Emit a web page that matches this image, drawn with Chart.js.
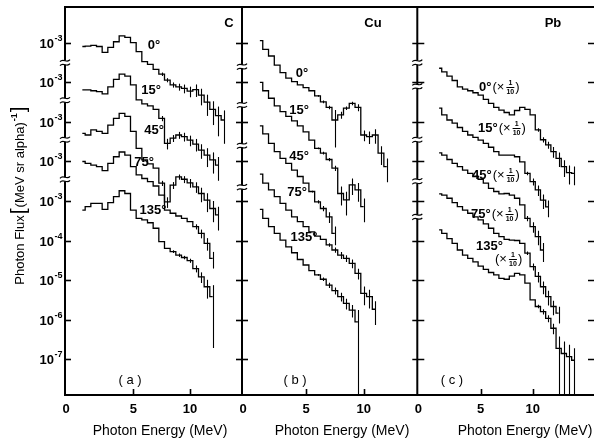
<!DOCTYPE html>
<html>
<head>
<meta charset="utf-8">
<script src="https://cdn.jsdelivr.net/npm/chart.js@4.4.0/dist/chart.umd.min.js"></script>
<style>
	html, body { margin: 0; padding: 0; background: #fff; }
	#wrap { position: relative; width: 594px; height: 442px; overflow: hidden; background: #fff; }
	#wrap canvas { position: absolute; left: 0; top: 0; }
</style>
</head>
<body>
<div id="wrap">
	<canvas id="chart-c" width="594" height="442"></canvas>
	<canvas id="chart-b" width="594" height="442"></canvas>
	<canvas id="chart-a" width="594" height="442"></canvas>
</div>
<script>
	// log10 of photon flux, each curve read against its own "10^-3" tick
	const angleLabels = ['0°', '15°', '45°', '75°', '135°'];
	const curveShift = [4, 3, 2, 1, 0];   // decades each curve is lifted on the page

	// y ticks (in page decades) and their exponents
	const tickPos = [1, 0, -1, -2, -3, -4, -5, -6, -7];
	const tickSup = ['-3', '-3', '-3', '-3', '-3', '-4', '-5', '-6', '-7'];

	// (a) Carbon
	const energyC = [0.5, 1, 1.5, 2, 2.5, 3, 3.5, 4, 4.5, 5, 5.5, 6, 6.5, 7, 7.5, 8, 8.5, 9, 9.5, 10, 10.5, 11, 11.5, 12, 12.5, 13];
	const cC0   = [-3.09, -3.08, -3.06, -3.09, -3.24, -3.11, -2.97, -2.82, -2.86, -2.99, -3.22, -3.47, -3.54, -3.67, -3.79, -3.94, -4.06, -4.11, -4.15, -4.22, -4.18, -4.32, -4.50, -4.68, -4.84, -4.95];
	const cC15  = [-3.19, -3.19, -3.21, -3.23, -3.29, -3.11, -2.92, -2.79, -2.84, -3.06, -3.44, -3.54, -3.59, -3.68, -3.91, -4.54, -4.41, -4.33, -4.37, -4.46, -4.56, -4.71, -4.84, -4.96, -5.09, null];
	const cC45  = [-3.29, -3.33, -3.20, -3.24, -3.29, -3.08, -2.91, -2.78, -2.86, -3.24, -3.67, -3.96, -4.06, -4.17, -4.55, -5.02, -4.60, -4.39, -4.45, -4.54, -4.64, -4.81, -4.98, -5.19, -5.35, null];
	const cC75  = [-3.00, -3.05, -3.09, -3.13, -3.23, -3.05, -2.88, -2.76, -2.84, -3.13, -3.34, -3.43, -3.51, -3.62, -3.85, -4.23, -4.31, -4.38, -4.44, -4.52, -4.65, -4.82, -5.07, -5.45, null, null];
	const cC135 = [-3.23, -3.14, -3.06, -3.06, -3.21, -3.04, -2.89, -2.74, -2.81, -3.23, -3.44, -3.48, -3.55, -3.69, -4.03, -4.20, -4.28, -4.37, -4.43, -4.51, -4.71, -4.92, -5.17, -5.42, null, null];
	// relative errors (0 = no bar drawn)
	const eC0   = [0, 0, 0, 0, 0, 0, 0, 0, 0, 0, 0, 0, 0, 0, 0.1, 0.12, 0.15, 0.2, 0.25, 0.3, 0.35, 0.45, 0.55, 0.6, 0.7, 0.75];
	const eC15  = [0, 0, 0, 0, 0, 0, 0, 0, 0, 0, 0, 0, 0, 0, 0.15, 0.3, 0.2, 0.2, 0.25, 0.3, 0.35, 0.4, 0.5, 0.55, 0.6, 0];
	const eC45  = [0, 0, 0, 0, 0, 0, 0, 0, 0, 0, 0, 0, 0, 0, 0.15, 0.3, 0.2, 0.15, 0.2, 0.25, 0.3, 0.4, 0.5, 0.55, 0.6, 0];
	const eC75  = [0, 0, 0, 0, 0, 0, 0, 0, 0, 0, 0, 0, 0, 0, 0, 0, 0, 0, 0, 0, 0.15, 0.25, 0.35, 0.45, 0, 0];
	const eC135 = [0, 0, 0, 0, 0, 0, 0, 0, 0, 0, 0, 0, 0, 0, 0, 0, 0.08, 0.1, 0.1, 0.12, 0.2, 0.3, 0.5, 0.95, 0, 0];

	// (b) Copper
	const energyCu = [1, 1.5, 2, 2.5, 3, 3.5, 4, 4.5, 5, 5.5, 6, 6.5, 7, 7.5, 8, 8.5, 9, 9.5, 10, 10.5, 11, 11.5, 12];
	const cCu0   = [-2.94, -3.16, -3.33, -3.56, -3.75, -3.89, -3.98, -4.06, -4.13, -4.21, -4.34, -4.49, -4.63, -4.95, -4.82, -4.65, -4.53, -4.63, -5.33, -5.37, -5.33, -5.79, -6.13];
	const cCu15  = [-3.00, -3.21, -3.40, -3.59, -3.74, -3.86, -3.97, -4.10, -4.25, -4.46, -4.67, -4.79, -4.95, -5.17, -5.81, -5.97, -5.59, -5.72, -6.14, null, null, null, null];
	const cCu45  = [-3.10, -3.30, -3.54, -3.75, -3.92, -4.05, -4.22, -4.38, -4.55, -4.76, -5.02, -5.19, -5.40, -5.82, null, null, null, null, null, null, null, null, null];
	const cCu75  = [-3.32, -3.55, -3.72, -3.89, -4.06, -4.23, -4.40, -4.52, -4.65, -4.78, -4.89, -4.97, -5.11, -5.24, -5.37, -5.45, -5.58, -5.83, -6.34, -6.42, -6.74, null, null];
	const cCu135 = [-3.21, -3.44, -3.65, -3.82, -3.99, -4.16, -4.31, -4.48, -4.62, -4.76, -4.87, -4.98, -5.13, -5.27, -5.42, -5.59, -5.76, -6.06, null, null, null, null, null];
	const eCu0   = [0, 0, 0, 0, 0, 0, 0, 0, 0, 0, 0.05, 0.08, 0.1, 0.8, 0.2, 0.1, 0.1, 0.2, 0.3, 0.35, 0.4, 0.5, 0.6];
	const eCu15  = [0, 0, 0, 0, 0, 0, 0, 0, 0, 0, 0.05, 0.08, 0.1, 0.15, 0.5, 0.6, 0.45, 0.5, 0.6, 0, 0, 0, 0];
	const eCu45  = [0, 0, 0, 0, 0, 0, 0, 0, 0, 0.05, 0.1, 0.15, 0.3, 0.5, 0, 0, 0, 0, 0, 0, 0, 0, 0];
	const eCu75  = [0, 0, 0, 0, 0, 0, 0, 0, 0, 0, 0, 0, 0.1, 0.15, 0.2, 0.2, 0.25, 0.3, 0.5, 0.5, 0.6, 0, 0];
	const eCu135 = [0, 0, 0, 0, 0, 0, 0, 0, 0, 0, 0.05, 0.1, 0.15, 0.2, 0.25, 0.3, 0.35, 1, 0, 0, 0, 0, 0];

	// (c) Lead, plotted x 1/10
	const energyPb = [1, 1.5, 2, 2.5, 3, 3.5, 4, 4.5, 5, 5.5, 6, 6.5, 7, 7.5, 8, 8.5, 9, 9.5, 10, 10.5, 11, 11.5, 12, 12.5, 13, 13.5, 14];
	const cPb0   = [-3.64, -3.73, -3.84, -3.95, -4.11, -4.17, -4.21, -4.26, -4.32, -4.43, -4.53, -4.63, -4.70, -4.76, -4.82, -4.71, -4.63, -4.68, -4.82, -5.20, -5.45, -5.58, -5.75, -5.92, -6.13, -6.28, -6.30];
	const cPb15  = [-3.65, -3.82, -3.95, -4.03, -4.14, -4.24, -4.33, -4.39, -4.46, -4.54, -4.64, -4.75, -4.84, -4.84, -4.84, -4.88, -5.01, -5.30, -5.51, -5.72, -5.98, -6.15, null, null, null, null, null];
	const cPb45  = [-3.78, -3.84, -3.95, -4.05, -4.13, -4.22, -4.30, -4.37, -4.45, -4.55, -4.68, -4.76, -4.82, -4.81, -4.85, -4.93, -5.10, -5.44, -5.65, -5.90, -6.24, null, null, null, null, null, null];
	const cPb75  = [-3.82, -3.85, -3.93, -4.04, -4.14, -4.23, -4.31, -4.40, -4.48, -4.58, -4.69, -4.82, -4.90, -4.97, -4.99, -5.00, -5.07, -5.32, -5.66, -5.91, -6.17, -6.42, -6.67, -6.84, null, null, null];
	const cPb135 = [-3.73, -3.82, -3.95, -4.07, -4.24, -4.37, -4.45, -4.54, -4.65, -4.73, -4.81, -4.87, -4.96, -4.98, -4.90, -4.83, -4.87, -5.08, -5.50, -5.67, -5.80, -5.97, -6.22, -6.73, -6.86, -6.94, -7.03];
	const ePb0   = [0, 0, 0, 0, 0, 0, 0, 0, 0, 0, 0, 0, 0, 0, 0, 0, 0, 0, 0, 0.1, 0.15, 0.2, 0.3, 0.4, 0.45, 0.5, 0.5];
	const ePb15  = [0, 0, 0, 0, 0, 0, 0, 0, 0, 0, 0, 0, 0, 0, 0, 0, 0, 0.1, 0.2, 0.3, 0.4, 0.45, 0, 0, 0, 0, 0];
	const ePb45  = [0, 0, 0, 0, 0, 0, 0, 0, 0, 0, 0, 0, 0, 0, 0, 0, 0, 0.15, 0.3, 0.4, 0.5, 0, 0, 0, 0, 0, 0];
	const ePb75  = [0, 0, 0, 0, 0, 0, 0, 0, 0, 0, 0, 0, 0, 0, 0, 0, 0, 0.1, 0.2, 0.3, 0.35, 0.4, 0.4, 0.45, 0, 0, 0];
	const ePb135 = [0, 0, 0, 0, 0, 0, 0, 0, 0, 0, 0, 0, 0, 0, 0, 0, 0, 0, 0, 0.1, 0.15, 0.2, 0.3, 1, 1, 1, 1];

	const FONT = '"Liberation Sans", Arial, sans-serif';
	const yMin = -7.91, yMax = 1.91;

	const panels = [
		{
			id: 'chart-a', energy: energyC,
			curves: [cC0, cC15, cC45, cC75, cC135], errs: [eC0, eC15, eC45, eC75, eC135],
			pad: { left: 65, right: 352, top: 7, bottom: 47 }, xMin: -1.03, xMax: 14.59,
			tickSpan: [-1, 6], breaks: [0.5, -0.45, -1.45, -2.45],
			name: ['C', 229, 23], letter: ['( a )', 130, 380], titleX: 160,
			labels: [['0°', 154, 45], ['15°', 151, 90], ['45°', 154, 130], ['75°', 144, 162], ['135°', 153, 210]],
			yLabels: true
		},
		{
			id: 'chart-b', energy: energyCu,
			curves: [cCu0, cCu15, cCu45, cCu75, cCu135], errs: [eCu0, eCu15, eCu45, eCu75, eCu135],
			pad: { left: 242, right: 176.7, top: 7, bottom: 47 }, xMin: -0.55, xMax: 14.65,
			tickSpan: [-6, 6], breaks: [0.4, -0.57, -1.6, -2.65],
			name: ['Cu', 373, 23], letter: ['( b )', 295, 380], titleX: 342,
			labels: [['0°', 302, 73], ['15°', 299, 110], ['45°', 299, 156], ['75°', 297, 192], ['135°', 304, 237]]
		},
		{
			id: 'chart-c', energy: energyPb,
			curves: [cPb0, cPb15, cPb45, cPb75, cPb135], errs: [ePb0, ePb15, ePb45, ePb75, ePb135],
			pad: { left: 417.3, right: 0, top: 7, bottom: 47 }, xMin: -1.1, xMax: 15.9,
			tickSpan: [-5, 7], breaks: [0.5, -0.1, -1.45, -2.5, -3.4], rightTicks: true,
			name: ['Pb', 553, 23], letter: ['( c )', 452, 380], titleX: 525,
			fracLabels: [['0°', 479, 87, true], ['15°', 478, 128, true], ['45°', 472, 175, true],
				['75°', 471, 214, true], ['135°', 476, 246, false], ['', 494, 259, true]]
		}
	];

	function breakMark(ctx, x, y) {
		ctx.save();
		ctx.fillStyle = '#fff';
		ctx.fillRect(x - 3, y - 2, 6, 4);
		ctx.strokeStyle = '#000';
		ctx.lineWidth = 1.2;
		[-2, 2].forEach(dy => {
			ctx.beginPath();
			ctx.moveTo(x - 5, y + dy + 1);
			ctx.bezierCurveTo(x - 2, y + dy - 3, x + 2, y + dy + 3, x + 5, y + dy - 1);
			ctx.stroke();
		});
		ctx.restore();
	}

	function tenthLabel(ctx, text, x, y, frac) {
		ctx.textAlign = 'left';
		ctx.textBaseline = 'middle';
		ctx.font = 'bold 13px ' + FONT;
		ctx.fillText(text, x, y);
		if (!frac) return;
		let cx = x + ctx.measureText(text).width + 1;
		ctx.font = '13px ' + FONT;
		ctx.fillText('(×', cx, y);
		cx += ctx.measureText('(×').width + 1;
		ctx.font = 'bold 7px ' + FONT;
		ctx.textAlign = 'center';
		ctx.fillText('1', cx + 5, y - 4);
		ctx.fillText('10', cx + 5, y + 5);
		ctx.fillRect(cx + 1, y, 8, 1);
		ctx.textAlign = 'left';
		ctx.font = '13px ' + FONT;
		ctx.fillText(')', cx + 10, y);
	}

	function yTitle(ctx) {
		const parts = [
			['Photon Flux', '13px', 0], ['[', '21px', 1], ['(MeV sr alpha)', '13px', 0],
			['-1', 'bold 9px', -7], [']', '21px', 1]
		];
		ctx.save();
		ctx.translate(19, 195);
		ctx.rotate(-Math.PI / 2);
		ctx.textAlign = 'left';
		ctx.textBaseline = 'alphabetic';
		let total = 0;
		parts.forEach(p => { ctx.font = p[1] + ' ' + FONT; total += ctx.measureText(p[0]).width + 1; });
		let cx = -total / 2;
		parts.forEach(p => {
			ctx.font = p[1] + ' ' + FONT;
			ctx.fillText(p[0], cx, 5 + p[2]);
			cx += ctx.measureText(p[0]).width + 1;
		});
		ctx.restore();
	}

	function decor(panel) {
		return {
			id: 'decor',
			afterDatasetsDraw(chart) {
				const { ctx, chartArea: a, scales: { x, y } } = chart;
				ctx.save();
				ctx.beginPath();
				ctx.rect(a.left, a.top, a.right - a.left, a.bottom - a.top);
				ctx.clip();
				ctx.strokeStyle = '#000';
				ctx.lineWidth = 1.1;
				chart.data.datasets.forEach(ds => {
					ds.data.forEach((p, j) => {
						const s = ds.errs[j];
						if (!s || p.y == null) return;
						const px = Math.round(x.getPixelForValue(p.x)) + 0.5;
						const top = y.getPixelForValue(p.y + Math.log10(1 + s));
						const bot = s >= 1 ? a.bottom : y.getPixelForValue(p.y + Math.log10(1 - s));
						ctx.beginPath();
						ctx.moveTo(px, top);
						ctx.lineTo(px, bot);
						ctx.stroke();
					});
				});
				ctx.restore();
			},
			afterDraw(chart) {
				const { ctx, chartArea: a, scales: { x, y } } = chart;
				ctx.save();
				ctx.strokeStyle = '#000';

				// frame
				ctx.lineWidth = 2;
				ctx.beginPath();
				ctx.moveTo(a.left, a.top);
				ctx.lineTo(a.left, a.bottom);
				ctx.moveTo(a.left - 1, a.bottom);
				ctx.lineTo(a.right + 1, a.bottom);
				ctx.moveTo(a.left - 1, a.top);
				ctx.lineTo(a.right + 1, a.top);
				ctx.stroke();

				// decade ticks
				ctx.lineWidth = 1.6;
				tickPos.forEach(v => {
					const py = Math.round(y.getPixelForValue(v)) + 0.5;
					ctx.beginPath();
					ctx.moveTo(a.left + panel.tickSpan[0], py);
					ctx.lineTo(a.left + panel.tickSpan[1], py);
					if (panel.rightTicks) {
						ctx.moveTo(a.right - 6, py);
						ctx.lineTo(a.right, py);
					}
					ctx.stroke();
				});
				[5, 10].forEach(v => {
					const px = Math.round(x.getPixelForValue(v)) + 0.5;
					ctx.beginPath();
					ctx.moveTo(px, a.bottom);
					ctx.lineTo(px, a.bottom - 6);
					ctx.stroke();
				});
				panel.breaks.forEach(v => breakMark(ctx, a.left, y.getPixelForValue(v)));

				ctx.fillStyle = '#000';

				// x tick labels
				ctx.font = 'bold 13px ' + FONT;
				ctx.textAlign = 'center';
				ctx.textBaseline = 'middle';
				ctx.fillText('0', a.left + 1, 409);
				ctx.fillText('5', x.getPixelForValue(5), 409);
				ctx.fillText('10', x.getPixelForValue(10), 409);

				// axis title, panel name, panel letter
				ctx.font = '14px ' + FONT;
				ctx.fillText('Photon Energy (MeV)', panel.titleX, 431);
				ctx.font = '13px ' + FONT;
				ctx.fillText(panel.letter[0], panel.letter[1], panel.letter[2]);
				ctx.font = 'bold 13px ' + FONT;
				ctx.fillText(panel.name[0], panel.name[1], panel.name[2]);

				if (panel.labels) {
					panel.labels.forEach(l => ctx.fillText(l[0], l[1], l[2]));
				}
				if (panel.fracLabels) {
					panel.fracLabels.forEach(l => tenthLabel(ctx, l[0], l[1], l[2], l[3]));
				}

				if (panel.yLabels) {
					tickPos.forEach((v, i) => {
						const py = y.getPixelForValue(v);
						ctx.textAlign = 'left';
						ctx.textBaseline = 'alphabetic';
						ctx.font = 'bold 9px ' + FONT;
						const sw = ctx.measureText(tickSup[i]).width;
						ctx.font = 'bold 13px ' + FONT;
						const bw = ctx.measureText('10').width;
						const x0 = a.left - 3 - sw - bw;
						ctx.fillText('10', x0, py + 5);
						ctx.font = 'bold 9px ' + FONT;
						ctx.fillText(tickSup[i], x0 + bw + 0.5, py - 2);
					});
					yTitle(ctx);
				}
				ctx.restore();
			}
		};
	}

	function buildChart(panel) {
		const datasets = panel.curves.map((vals, k) => ({
			label: angleLabels[k],
			data: panel.energy.map((e, j) => ({ x: e, y: vals[j] == null ? null : vals[j] + curveShift[k] })),
			errs: panel.errs[k],
			borderColor: '#000',
			borderWidth: 1.3,
			pointRadius: 0,
			stepped: 'middle',
			fill: false
		}));
		return new Chart(document.getElementById(panel.id).getContext('2d'), {
			type: 'line',
			data: { datasets: datasets },
			options: {
				responsive: false,
				animation: false,
				devicePixelRatio: 1,
				events: [],
				layout: { padding: panel.pad },
				plugins: { legend: { display: false }, tooltip: { enabled: false } },
				scales: {
					x: { type: 'linear', display: false, min: panel.xMin, max: panel.xMax },
					y: { type: 'linear', display: false, min: yMin, max: yMax }
				}
			},
			plugins: [decor(panel)]
		});
	}

	panels.forEach(buildChart);
</script>
</body>
</html>
